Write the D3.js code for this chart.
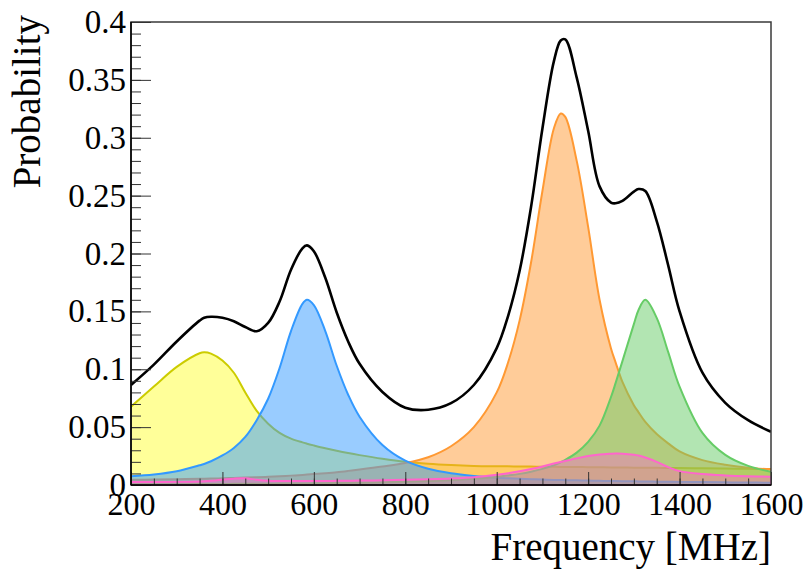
<!DOCTYPE html>
<html>
<head>
<meta charset="utf-8">
<script src="https://cdn.jsdelivr.net/npm/d3@7"></script>
<style>
  html, body { margin: 0; padding: 0; background: #fff; }
  svg { display: block; }
  text { font-family: "Liberation Serif", "Times New Roman", serif; fill: #000; }
</style>
</head>
<body>
<svg id="chart" width="806" height="569"></svg>
<script>
// Frequency samples (MHz) shared by every curve
const freq = [200,250,300,350,360,375,400,425,450,475,500,525,550,575,585,600,625,650,675,700,
  750,800,850,900,950,1000,1025,1050,1075,1100,1125,1140,1150,1175,1200,1225,1250,1260,1275,
  1300,1310,1325,1350,1375,1400,1450,1500,1550,1600];

// Component probabilities
const yellowComp = [0.0677,0.085,0.102,0.1138,0.1146,0.1135,0.1075,0.097,0.080,0.064,0.053,0.045,0.040,0.0368,0.0357,0.0342,0.0318,0.0296,0.0276,0.0258,
  0.0226,0.0200,0.0183,0.0172,0.0165,0.0162,0.0161,0.0160,0.0159,0.0158,0.0157,0.0156,0.0156,0.0155,0.0154,0.0153,0.0152,0.0152,0.0151,
  0.0150,0.0150,0.0149,0.0148,0.0147,0.0146,0.0144,0.0142,0.0140,0.0138];
const orangeComp = [0.0045,0.0047,0.0050,0.0054,0.0055,0.0056,0.0058,0.0061,0.0064,0.0067,0.0071,0.0076,0.0081,0.0087,0.0090,0.0094,0.0102,0.0111,0.0122,0.0134,
  0.0160,0.0190,0.0240,0.0335,0.0500,0.0800,0.1060,0.1420,0.1920,0.2540,0.3080,0.3210,0.3180,0.2800,0.2230,0.1600,0.1180,0.1060,0.0890,
  0.0690,0.0630,0.0545,0.0440,0.0360,0.0290,0.0215,0.0175,0.0150,0.0135];
const blueComp = [0.0075,0.0090,0.0118,0.0170,0.0182,0.0205,0.0255,0.0320,0.0415,0.0560,0.0745,0.1010,0.1330,0.1565,0.1600,0.1555,0.1330,0.1030,0.0780,0.0590,
  0.0345,0.0210,0.0140,0.0101,0.0078,0.0063,0.0058,0.0054,0.0050,0.0047,0.0044,0.0043,0.0042,0.0040,0.0038,0.0036,0.0035,0.0034,0.0033,
  0.0032,0.0031,0.0030,0.0029,0.0028,0.0027,0.0025,0.0023,0.0021,0.0020];
const greenComp = [0.0006,0.0007,0.0007,0.0008,0.0008,0.0009,0.0009,0.0010,0.0010,0.0011,0.0011,0.0012,0.0013,0.0014,0.0014,0.0015,0.0016,0.0017,0.0018,0.0020,
  0.0023,0.0028,0.0034,0.0042,0.0053,0.0070,0.0082,0.0096,0.0115,0.0139,0.0171,0.0197,0.0217,0.0280,0.0373,0.0513,0.0760,0.0880,0.1070,
  0.1390,0.1510,0.1600,0.1444,0.1150,0.0850,0.0450,0.0260,0.0165,0.0115];
const pinkComp = [0.0025,0.0026,0.0027,0.0030,0.0032,0.0036,0.0045,0.0055,0.0058,0.0045,0.0036,0.0034,0.0034,0.0034,0.0034,0.0035,0.0035,0.0036,0.0037,0.0038,
  0.0041,0.0045,0.0050,0.0057,0.0068,0.0088,0.0101,0.0118,0.0138,0.0160,0.0185,0.0199,0.0208,0.0230,0.0250,0.0263,0.0270,0.0272,0.0271,
  0.0262,0.0255,0.0237,0.0200,0.0155,0.0120,0.0095,0.0083,0.0076,0.0072];
// Total probability
const total = [0.0864,0.104,0.124,0.142,0.1445,0.1454,0.1445,0.1415,0.1365,0.1328,0.140,0.1585,0.186,0.2045,0.207,0.202,0.179,0.149,0.124,0.1047,
  0.0804,0.0668,0.0650,0.0707,0.0864,0.1183,0.1462,0.1848,0.2400,0.3080,0.3660,0.3840,0.3850,0.3520,0.3060,0.2580,0.2440,0.2434,0.2455,
  0.2535,0.2557,0.2540,0.2280,0.1900,0.1500,0.0970,0.0710,0.0560,0.0460];

// Axis ticks
const xMajor = [200,400,600,800,1000,1200,1400,1600];
const yMajor = [0,0.05,0.1,0.15,0.2,0.25,0.3,0.35,0.4];
const yLabels = ["0","0.05","0.1","0.15","0.2","0.25","0.3","0.35","0.4"];

const components = [
  { name: "yellow", values: yellowComp, stroke: "#cccc00", fill: "#ffff33", opacity: 0.5 },
  { name: "orange", values: orangeComp, stroke: "#ff9933", fill: "#ff9933", opacity: 0.5 },
  { name: "blue",   values: blueComp,   stroke: "#3399ff", fill: "#3399ff", opacity: 0.5 },
  { name: "green",  values: greenComp,  stroke: "#66cc66", fill: "#66cc66", opacity: 0.5 },
  { name: "pink",   values: pinkComp,   stroke: "#ff66cc", fill: "#ff66cc", opacity: 0.4, closed: true }
];

const L = 131, R = 771, T = 22, B = 485;
const svg = d3.select("#chart");
const x = d3.scaleLinear().domain([200, 1600]).range([L, R]);
const y = d3.scaleLinear().domain([0, 0.4]).range([B, T]);

svg.append("defs").append("clipPath").attr("id", "frame")
  .append("rect").attr("x", L).attr("y", T - 1).attr("width", R - L).attr("height", B - T + 2);

const plot = svg.append("g").attr("clip-path", "url(#frame)");

const smooth = d3.curveCatmullRom.alpha(0.5);
const area = d3.area().curve(smooth)
  .x((d, i) => x(freq[i])).y0(y(0)).y1(d => y(d));
const line = d3.line().curve(smooth)
  .x((d, i) => x(freq[i])).y(d => y(d));

components.forEach(c => {
  plot.append("path").attr("d", area(c.values))
    .attr("fill", c.fill).attr("fill-opacity", c.opacity)
    .attr("stroke", c.closed ? c.stroke : "none")
    .attr("stroke-width", c.closed ? 2 : 0);
  if (!c.closed) {
    plot.append("path").attr("d", line(c.values))
      .attr("fill", "none").attr("stroke", c.stroke).attr("stroke-width", 2);
  }
});

plot.append("path").attr("d", line(total))
  .attr("fill", "none").attr("stroke", "#000").attr("stroke-width", 2.6);

// Frame
svg.append("rect").attr("x", L).attr("y", T).attr("width", R - L).attr("height", B - T)
  .attr("fill", "none").attr("stroke", "#3a3a3a").attr("stroke-width", 1.5);

// X axis: minor ticks, then major ticks with labels
const xMinor = d3.range(200, 1601, 50);
svg.append("g").attr("transform", `translate(0,${B})`)
  .call(d3.axisBottom(x).tickValues(xMinor).tickSize(-6.5).tickFormat(""))
  .call(g => g.select(".domain").remove())
  .call(g => g.selectAll("line").attr("stroke", "#333"));
svg.append("g").attr("transform", `translate(0,${B})`)
  .call(d3.axisBottom(x).tickValues(xMajor).tickSize(-13).tickPadding(7).tickFormat(d3.format("d")))
  .call(g => g.select(".domain").remove())
  .call(g => g.selectAll("line").attr("stroke", "#333"))
  .call(g => g.selectAll("text").attr("font-size", 32).attr("font-family", "Liberation Serif").attr("fill", "#000"));

// Y axis
const yMinor = d3.range(0, 0.4001, 0.01);
svg.append("g").attr("transform", `translate(${L},0)`)
  .call(d3.axisLeft(y).tickValues(yMinor).tickSize(-10).tickFormat(""))
  .call(g => g.select(".domain").remove())
  .call(g => g.selectAll("line").attr("stroke", "#333"));
svg.append("g").attr("transform", `translate(${L},0)`)
  .call(d3.axisLeft(y).tickValues(yMajor).tickSize(-20).tickPadding(5)
    .tickFormat((d, i) => yLabels[i]))
  .call(g => g.select(".domain").remove())
  .call(g => g.selectAll("line").attr("stroke", "#333"))
  .call(g => g.selectAll("text").attr("font-size", 33).attr("font-family", "Liberation Serif").attr("fill", "#000"));

// Axis lines
svg.append("line").attr("x1", L).attr("x2", R).attr("y1", B).attr("y2", B)
  .attr("stroke", "#000").attr("stroke-width", 1.5);
svg.append("line").attr("x1", L).attr("x2", L).attr("y1", T).attr("y2", B)
  .attr("stroke", "#000").attr("stroke-width", 1.5);

// Axis titles
svg.append("text").attr("x", R).attr("y", 560).attr("text-anchor", "end")
  .attr("font-size", 39).text("Frequency [MHz]");
svg.append("text").attr("transform", `translate(40,${T - 7}) rotate(-90)`)
  .attr("text-anchor", "end").attr("font-size", 39).text("Probability");
</script>
</body>
</html>
